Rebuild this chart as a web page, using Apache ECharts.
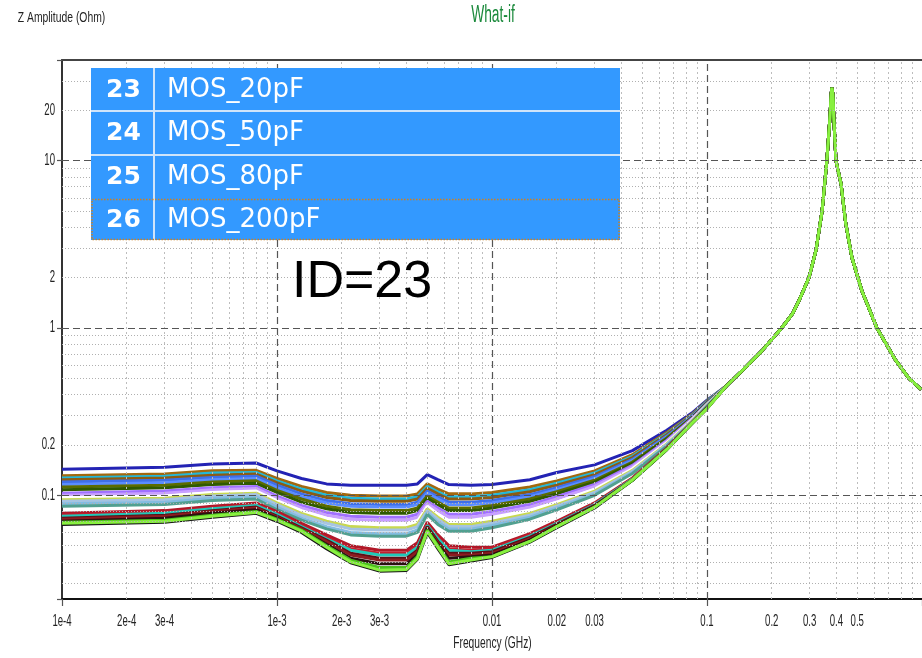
<!DOCTYPE html>
<html><head><meta charset="utf-8">
<script src="https://cdn.jsdelivr.net/npm/echarts@6/dist/echarts.min.js"></script>
<style>html,body{margin:0;padding:0;background:#fff}#c{width:922px;height:658px}</style>
</head><body><div id="c"></div>
<script>
// ---- data (frequency in GHz, impedance in Ohm) ----
const FREQ_LOW = [1e-4,3e-4,5e-4,8e-4,1e-3,1.3e-3,1.7e-3,2.2e-3,3e-3,4e-3,4.5e-3,5e-3,5.6e-3,6.3e-3,8e-3,0.01,0.015,0.02,0.03,0.045,0.065,0.085,0.1];
const FREQ_TAIL = [0.123,0.146,0.18,0.221,0.25,0.268,0.298,0.321,0.343,0.361,0.373,0.378,0.381,0.385,0.389,0.398,0.42,0.442,0.472,0.525,0.617,0.755,0.87,0.99];
const Z_TAIL = [0.45,0.557,0.73,0.99,1.22,1.46,2.0,2.9,5.0,10,18,25,27.3,25,18,10,7.3,4.2,2.64,1.67,1.0,0.64,0.5,0.43];

const Z_S1  = [0.143,0.147,0.154,0.156,0.140,0.126,0.117,0.115,0.115,0.115,0.117,0.133,0.124,0.116,0.115,0.116,0.124,0.137,0.152,0.185,0.245,0.31,0.37];
const Z_S2  = [0.131,0.134,0.140,0.141,0.126,0.113,0.104,0.100,0.099,0.099,0.102,0.117,0.109,0.102,0.102,0.104,0.112,0.122,0.140,0.175,0.237,0.305,0.367];
const Z_S3  = [0.127,0.130,0.136,0.137,0.122,0.109,0.100,0.096,0.095,0.095,0.098,0.113,0.105,0.098,0.098,0.100,0.108,0.118,0.136,0.171,0.233,0.302,0.365];
const Z_S4  = [0.124,0.127,0.132,0.134,0.119,0.106,0.097,0.093,0.092,0.092,0.095,0.110,0.102,0.095,0.095,0.097,0.105,0.115,0.133,0.168,0.230,0.300,0.363];
const Z_S5  = [0.120,0.123,0.128,0.130,0.115,0.102,0.093,0.089,0.088,0.088,0.091,0.106,0.098,0.091,0.091,0.093,0.101,0.111,0.129,0.164,0.226,0.297,0.361];
const Z_S6  = [0.116,0.119,0.124,0.126,0.111,0.098,0.090,0.086,0.085,0.085,0.088,0.103,0.095,0.088,0.088,0.090,0.098,0.108,0.126,0.161,0.223,0.295,0.359];
const Z_S7  = [0.112,0.115,0.120,0.122,0.107,0.095,0.086,0.082,0.081,0.081,0.084,0.099,0.091,0.084,0.084,0.087,0.095,0.105,0.123,0.158,0.220,0.292,0.357];
const Z_S8  = [0.108,0.111,0.116,0.118,0.104,0.091,0.083,0.079,0.078,0.078,0.081,0.096,0.088,0.081,0.081,0.084,0.092,0.102,0.120,0.155,0.217,0.290,0.355];
const Z_S9  = [0.103,0.106,0.111,0.113,0.099,0.087,0.079,0.075,0.074,0.074,0.077,0.092,0.084,0.077,0.077,0.080,0.088,0.098,0.116,0.151,0.213,0.287,0.352];
const Z_S10 = [0.100,0.103,0.108,0.110,0.096,0.084,0.076,0.072,0.071,0.071,0.074,0.089,0.081,0.074,0.074,0.077,0.085,0.095,0.113,0.148,0.210,0.284,0.350];
const Z_S11 = [0.097,0.099,0.104,0.106,0.093,0.081,0.073,0.068,0.067,0.067,0.070,0.086,0.077,0.070,0.070,0.073,0.081,0.091,0.109,0.144,0.206,0.281,0.348];
const Z_S12 = [0.094,0.096,0.101,0.103,0.090,0.078,0.070,0.065,0.064,0.064,0.067,0.083,0.074,0.067,0.067,0.070,0.078,0.088,0.106,0.141,0.203,0.278,0.346];
const Z_S13 = [0.092,0.094,0.099,0.101,0.088,0.076,0.068,0.063,0.062,0.062,0.065,0.081,0.072,0.065,0.065,0.068,0.076,0.086,0.104,0.139,0.201,0.276,0.344];
const Z_S14 = [0.089,0.091,0.096,0.098,0.085,0.073,0.065,0.060,0.059,0.059,0.062,0.079,0.069,0.063,0.063,0.066,0.074,0.084,0.102,0.137,0.199,0.274,0.342];
const Z_S15 = [0.086,0.088,0.093,0.095,0.082,0.071,0.063,0.058,0.057,0.057,0.060,0.077,0.067,0.061,0.061,0.064,0.072,0.082,0.100,0.135,0.197,0.272,0.340];
const Z_S16 = [0.078,0.081,0.086,0.090,0.080,0.068,0.058,0.050,0.047,0.047,0.052,0.069,0.058,0.050,0.049,0.049,0.059,0.070,0.090,0.127,0.192,0.272,0.335];
const Z_S17 = [0.076,0.079,0.084,0.088,0.078,0.066,0.056,0.048,0.045,0.045,0.050,0.067,0.056,0.048,0.047,0.048,0.058,0.069,0.089,0.126,0.191,0.271,0.334];
const Z_S18 = [0.075,0.078,0.083,0.087,0.077,0.065,0.055,0.047,0.044,0.044,0.049,0.066,0.055,0.047,0.046,0.047,0.057,0.068,0.088,0.125,0.190,0.270,0.334];
const Z_S19 = [0.073,0.076,0.081,0.085,0.075,0.064,0.054,0.045,0.042,0.042,0.047,0.065,0.053,0.045,0.045,0.046,0.056,0.067,0.087,0.124,0.190,0.270,0.333];
const Z_S20 = [0.072,0.075,0.080,0.084,0.074,0.063,0.053,0.044,0.041,0.041,0.046,0.064,0.052,0.044,0.044,0.045,0.055,0.066,0.086,0.124,0.189,0.269,0.333];
const Z_S21 = [0.070,0.073,0.078,0.082,0.073,0.062,0.051,0.042,0.039,0.039,0.044,0.063,0.051,0.042,0.043,0.044,0.054,0.066,0.086,0.123,0.189,0.269,0.332];
const Z_S22 = [0.067,0.069,0.074,0.078,0.070,0.060,0.048,0.0395,0.0352,0.0355,0.0415,0.060,0.048,0.0385,0.0405,0.0425,0.0525,0.064,0.084,0.123,0.187,0.268,0.330];
const Z_S23 = [0.069,0.071,0.076,0.080,0.072,0.062,0.050,0.041,0.037,0.037,0.043,0.062,0.050,0.040,0.042,0.043,0.053,0.065,0.085,0.123,0.188,0.268,0.331];
const Z_S24 = [0.068,0.070,0.075,0.079,0.071,0.061,0.049,0.040,0.0357,0.036,0.042,0.061,0.049,0.039,0.041,0.043,0.053,0.065,0.085,0.124,0.188,0.270,0.330];

const SERIES_Z = [Z_S1,Z_S2,Z_S3,Z_S4,Z_S5,Z_S6,Z_S7,Z_S8,Z_S9,Z_S10,Z_S11,Z_S12,Z_S13,Z_S14,Z_S15,Z_S16,Z_S17,Z_S18,Z_S19,Z_S20,Z_S21,Z_S22,Z_S23,Z_S24];
const COLORS = ['#2323b4','#a2680e','#22b8da','#8c5c12','#3f6fe8','#5a8cff','#5c6c00','#2f5a00','#a070ff','#c8a0ff','#ffffff','#c8d850','#a6c4e2','#84bce0','#52a090','#b01828','#c41e2e','#20c8b8','#5a1018','#8c1c20','#2a1010','#141414','#4cc020','#88f040'];

const X_LABEL_VALUES = [1e-4,2e-4,3e-4,1e-3,2e-3,3e-3,0.01,0.02,0.03,0.1,0.2,0.3,0.4,0.5];
const X_LABEL_TEXT = ['1e-4','2e-4','3e-4','1e-3','2e-3','3e-3','0.01','0.02','0.03','0.1','0.2','0.3','0.4','0.5'];
const Y_LABEL_VALUES = [20,10,2,1,0.2,0.1];
const Y_LABEL_TEXT = ['20','10','2','1','0.2','0.1'];
const X_MAJOR = [1e-3,0.01,0.1];
const X_MINOR = [2e-4,3e-4,4e-4,5e-4,6e-4,7e-4,8e-4,9e-4,2e-3,3e-3,4e-3,5e-3,6e-3,7e-3,8e-3,9e-3,0.02,0.03,0.04,0.05,0.06,0.07,0.08,0.09,0.2,0.3,0.4,0.5,0.6,0.7,0.8,0.9];
const Y_MAJOR = [0.1,1,10];
const Y_MINOR = [0.03,0.04,0.05,0.06,0.07,0.08,0.09,0.2,0.3,0.4,0.5,0.6,0.7,0.8,0.9,2,3,4,5,6,7,8,9,20,30];
const LEGEND_IDS = ['23','24','25','26'];
const LEGEND_NAMES = ['MOS_20pF','MOS_50pF','MOS_80pF','MOS_200pF'];

// ---- styles ----
const SANS = "'Liberation Sans',Arial,sans-serif";
const minorV = {type:[2,3], color:'#bdbdbd', width:1};
const minorH = {type:[1,2], color:'#b0b0b0', width:1};
const majorS = {type:[7,4], color:'#555555', width:1.2};

const gridLines = [];
X_MINOR.forEach(v => gridLines.push({xAxis:v, lineStyle:minorV}));
Y_MINOR.forEach(v => gridLines.push({yAxis:v, lineStyle:minorH}));
X_MAJOR.forEach(v => gridLines.push({xAxis:v, lineStyle:majorS}));
Y_MAJOR.forEach(v => gridLines.push({yAxis:v, lineStyle:majorS}));

const series = [
  {type:'line', name:'grid', data:[], z:1, silent:true,
   markLine:{silent:true, precision:20, symbol:['none','none'], animation:false, label:{show:false}, data:gridLines}}
];
SERIES_Z.forEach((z,i) => {
  const pts = FREQ_LOW.map((f,j) => [f, z[j]]).concat(FREQ_TAIL.map((f,j) => [f, Z_TAIL[j]]));
  series.push({type:'line', name:'S'+(i+1), data:pts, showSymbol:false, symbol:'none', z:3, silent:true,
    lineStyle:{width:3, color:COLORS[i]}, itemStyle:{color:COLORS[i]}});
});

// legend-like overlay and annotations
const graphics = [
  {type:'rect', shape:{x:91,y:68,width:529,height:172}, style:{fill:'#3399ff'}, z:100},
  {type:'rect', shape:{x:91,y:110,width:529,height:2}, style:{fill:'#cfe4fa'}, z:101},
  {type:'rect', shape:{x:91,y:154,width:529,height:2}, style:{fill:'#cfe4fa'}, z:101},
  {type:'rect', shape:{x:153,y:68,width:2,height:172}, style:{fill:'#cfe4fa'}, z:101},
  {type:'rect', shape:{x:92,y:199.5,width:527,height:40}, style:{fill:'none', stroke:'#d0801e', lineWidth:1.5, lineDash:[1.5,1.5]}, z:102}
];
const rowY = [90,133,177,220];
LEGEND_IDS.forEach((id,i) => {
  graphics.push({type:'text', x:106, y:rowY[i], z:103, style:{text:id, fill:'#ffffff', font:"bold 25px 'DejaVu Sans'", textVerticalAlign:'middle'}});
  graphics.push({type:'text', x:167, y:rowY[i], z:103, style:{text:LEGEND_NAMES[i], fill:'#ffffff', font:"26px 'DejaVu Sans'", textVerticalAlign:'middle'}});
});
graphics.push({type:'text', x:292, y:283, z:103, style:{text:'ID=23', fill:'#000', font:"52px 'Liberation Sans'", textVerticalAlign:'middle'}});
graphics.push({type:'text', x:493, y:16, scaleX:0.6, z:103, style:{text:'What-if', fill:'#1b8a3c', font:"23px " + SANS, textAlign:'center', textVerticalAlign:'middle'}});
graphics.push({type:'text', x:61.5, y:18, scaleX:0.69, z:103, style:{text:'Z Amplitude (Ohm)', fill:'#222', font:"15px " + SANS, textAlign:'center', textVerticalAlign:'middle'}});
graphics.push({type:'text', x:492.5, y:644, scaleX:0.64, z:103, style:{text:'Frequency (GHz)', fill:'#222', font:"16px " + SANS, textAlign:'center', textVerticalAlign:'middle'}});

const chart = echarts.init(document.getElementById('c'), null, {renderer:'canvas'});
chart.setOption({
  animation:false,
  backgroundColor:'#ffffff',
  grid:{left:62, right:0, top:60, bottom:59, containLabel:false},
  xAxis:[
    {type:'log', logBase:10, min:1e-4, max:1,
     axisLine:{show:true, onZero:false, lineStyle:{color:'#111', width:2}},
     axisTick:{show:true, length:7, lineStyle:{color:'#555', width:1.2}},
     axisLabel:{show:false}, splitLine:{show:false}},
    {type:'log', logBase:10, min:1e-4, max:1, position:'top',
     axisLine:{show:true, onZero:false, lineStyle:{color:'#444', width:2}},
     axisTick:{show:false}, axisLabel:{show:false}, splitLine:{show:false}}
  ],
  yAxis:{type:'log', logBase:10, min:0.024, max:40,
     axisLine:{show:true, onZero:false, lineStyle:{color:'#333', width:2}},
     axisTick:{show:true, length:5, lineStyle:{color:'#555', width:1.2}},
     axisLabel:{show:false}, splitLine:{show:false}},
  series:series,
  graphic:graphics
});

// tick labels placed through the chart's own axis scales (condensed look)
const tickTexts = [];
X_LABEL_VALUES.forEach((v,i) => {
  const px = chart.convertToPixel({xAxisIndex:0}, v);
  tickTexts.push({type:'text', x:px, y:621.5, scaleX:0.6, z:103,
    style:{text:X_LABEL_TEXT[i], fill:'#222', font:"16px " + SANS, textAlign:'center', textVerticalAlign:'middle'}});
});
Y_LABEL_VALUES.forEach((v,i) => {
  const py = chart.convertToPixel({yAxisIndex:0}, v);
  tickTexts.push({type:'text', x:55, y:py, scaleX:0.6, z:103,
    style:{text:Y_LABEL_TEXT[i], fill:'#222', font:"16px " + SANS, textAlign:'right', textVerticalAlign:'middle'}});
});
chart.setOption({graphic: graphics.concat(tickTexts)});
</script></body></html>
